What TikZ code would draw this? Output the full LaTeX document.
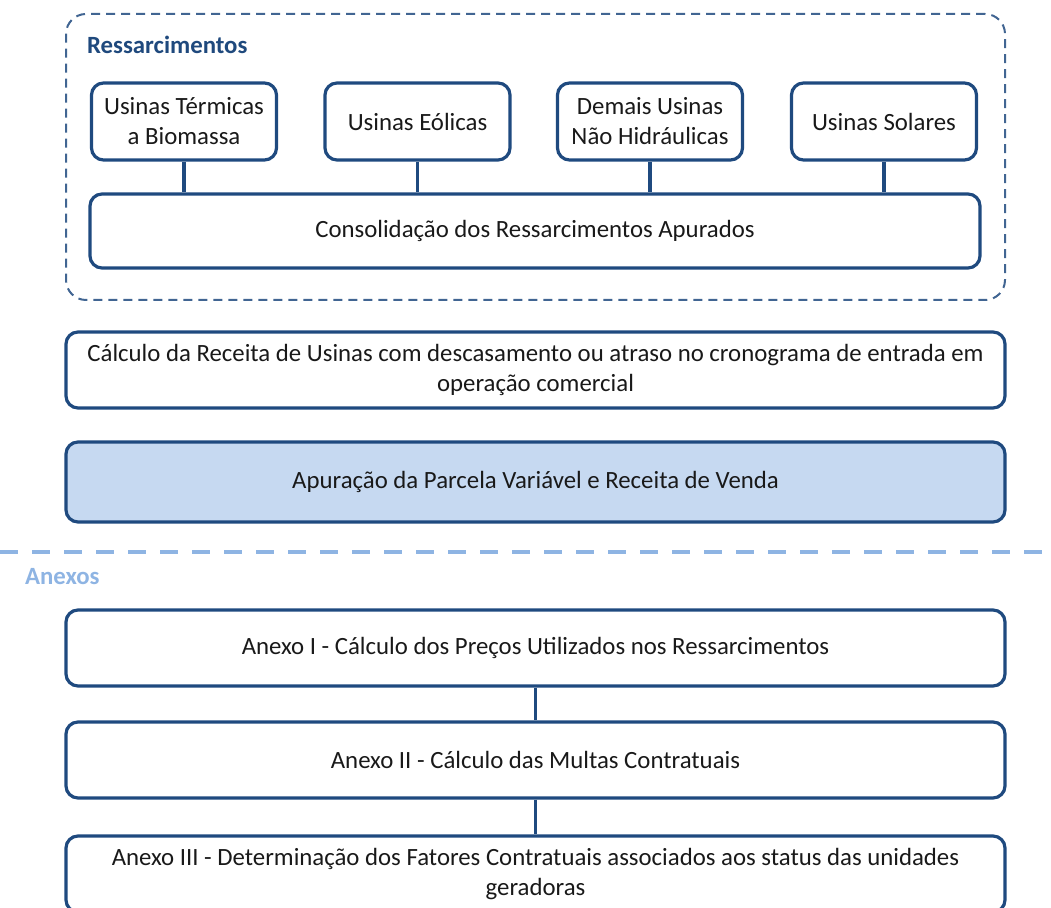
\documentclass[tikz,border=0pt]{standalone}
\usepackage{fontspec}
\setmainfont{Carlito}
\usetikzlibrary{positioning}
\definecolor{boxblue}{HTML}{1F4A7F}
\definecolor{fillblue}{HTML}{C6D9F1}
\definecolor{sepblue}{HTML}{8EB4E3}
\definecolor{titleblue}{HTML}{1F497D}
\begin{document}
\begin{tikzpicture}[x=1pt, y=-1pt,
    % Define node styles for the boxes and connectors.
    plant/.style={
      rectangle, rounded corners=6pt, draw=boxblue, line width=1.6pt,
      minimum width=92.5pt, minimum height=38.5pt, inner sep=2pt,
      align=center, text=black!90, font=\fontsize{12.4}{15}\selectfont
    },
    stage/.style={plant, minimum width=469.5pt, minimum height=38pt},
    group/.style={
      rectangle, rounded corners=10pt, draw=boxblue!85, line width=1pt,
      dash pattern=on 4.5pt off 3pt
    },
    link/.style={draw=boxblue, line width=1.6pt},
    separator/.style={draw=sepblue, line width=2pt, dash pattern=on 9pt off 7pt}
]
\useasboundingbox (0,0) rectangle (525.5,454);

% Ressarcimentos group
\node[group, minimum width=469.5pt, minimum height=143pt] (ressarc) at (267.75,78.5) {};
\node[anchor=west, text=titleblue, font=\fontsize{12.4}{14}\selectfont\bfseries] (titulo) at (40,22.5) {Ressarcimentos};

% Plant boxes
\node[plant] (termicas) at (92,60.75) {Usinas Térmicas\\a Biomassa};
\node[plant] (eolicas) at (208.75,60.75) {Usinas Eólicas};
\node[plant] (demais) at (325,60.75) {Demais Usinas\\Não Hidráulicas};
\node[plant] (solares) at (442,60.75) {Usinas Solares};

% Consolidation box
\node[plant, minimum width=445pt, minimum height=37pt] (consolidacao) at (267.5,115.5) {Consolidação dos Ressarcimentos Apurados};

% Revenue and variable part
\node[stage] (receita) at (267.75,185) {Cálculo da Receita de Usinas com descasamento ou atraso no cronograma de entrada em\\operação comercial};
\node[stage, fill=fillblue, minimum height=40pt] (apuracao) at (267.75,241) {Apuração da Parcela Variável e Receita de Venda};

% Separator
\coordinate (sepL) at (0,276);
\coordinate (sepR) at (525.5,276);
\draw[separator] (sepL) -- (sepR);
\node[anchor=west, text=sepblue, font=\fontsize{12.4}{14}\selectfont\bfseries] (anexos) at (9,288.5) {Anexos};

% Annexes
\node[stage] (anexoI) at (267.75,324) {Anexo I - Cálculo dos Preços Utilizados nos Ressarcimentos};
\node[stage] (anexoII) at (267.75,380) {Anexo II - Cálculo das Multas Contratuais};
\node[stage] (anexoIII) at (267.75,437) {Anexo III - Determinação dos Fatores Contratuais associados aos status das unidades\\geradoras};

% Connectors
\draw[link] (termicas.south) -- (termicas.south |- consolidacao.north);
\draw[link] (eolicas.south) -- (eolicas.south |- consolidacao.north);
\draw[link] (demais.south) -- (demais.south |- consolidacao.north);
\draw[link] (solares.south) -- (solares.south |- consolidacao.north);
\draw[link] (anexoI.south) -- (anexoII.north);
\draw[link] (anexoII.south) -- (anexoIII.north);

\end{tikzpicture}
\end{document}
